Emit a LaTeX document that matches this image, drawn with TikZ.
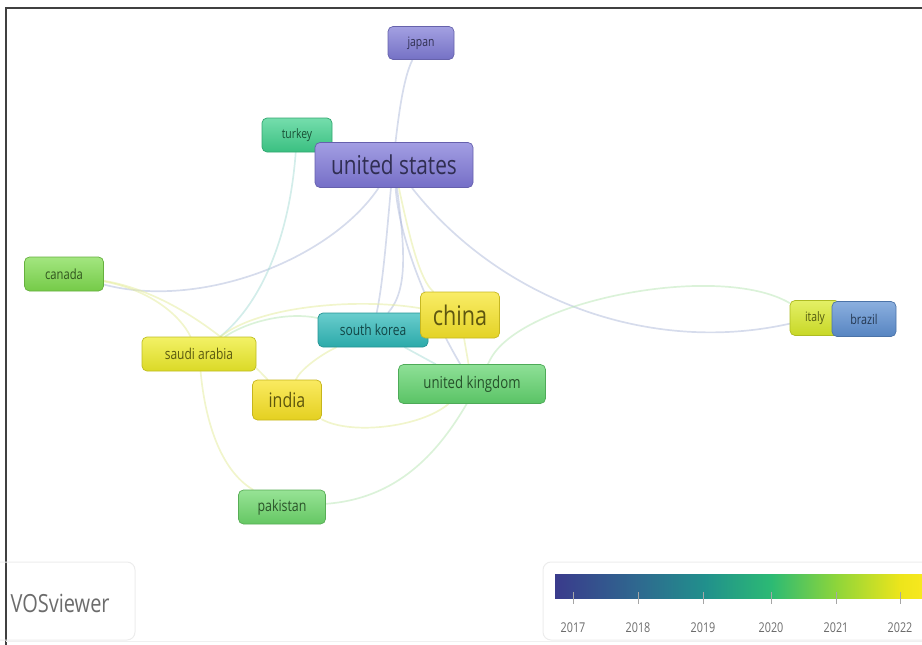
\documentclass[tikz,border=0pt]{standalone}
\usepackage{fontspec}
\setmainfont[FakeStretch=0.8]{Open Sans}
\usetikzlibrary{backgrounds}
\definecolor{cUS}{HTML}{7F78D8}
\definecolor{cJP}{HTML}{7F7BD6}
\definecolor{cTR}{HTML}{3FD08C}
\definecolor{cCA}{HTML}{7FDC4E}
\definecolor{cSK}{HTML}{2FB9B9}
\definecolor{cCN}{HTML}{F7E52A}
\definecolor{cSA}{HTML}{EEEC2A}
\definecolor{cIN}{HTML}{F8E223}
\definecolor{cUK}{HTML}{62D46E}
\definecolor{cIT}{HTML}{D9EA2A}
\definecolor{cBR}{HTML}{5E90D2}
\definecolor{cPK}{HTML}{6ED86C}
\definecolor{eBlue}{HTML}{AEB9DA}
\definecolor{eYel}{HTML}{E4EC9A}
\definecolor{eGrn}{HTML}{B8E6B4}
\definecolor{eTeal}{HTML}{A8DCD6}
\definecolor{cbA}{HTML}{3A3B8C}
\definecolor{cbB}{HTML}{2E6A8F}
\definecolor{cbC}{HTML}{21908C}
\definecolor{cbD}{HTML}{2CBA74}
\definecolor{cbE}{HTML}{8ED53A}
\definecolor{cbF}{HTML}{EDE51B}
\definecolor{cbG}{HTML}{F7E81E}
\begin{document}
\begin{tikzpicture}[x=1pt,y=-1pt,
  country/.style={rounded corners=5pt, inner sep=0pt, draw=#1!80!black,
    top color=#1!72!white, bottom color=#1!92!black, text=#1!38!black, line width=0.7pt},
  link/.style={line width=1.7pt, draw=#1, opacity=0.5, line cap=round},
  tick/.style={draw=gray!70, line width=0.6pt},
  year/.style={text=gray!85!black, font=\fontsize{13.5}{13.5}\selectfont}]
\useasboundingbox (0,0) rectangle (922,645);
% frame
\draw[line width=2pt, draw=black!75] (6,645) -- (6,8) -- (922,8);
% nodes
\node[country=cJP, minimum width=66pt, minimum height=33pt, font=\fontsize{13}{13}\selectfont] (japan) at (421,43) {japan};
\node[country=cTR, minimum width=70pt, minimum height=34pt, font=\fontsize{13}{13}\selectfont] (turkey) at (297,135) {turkey};
\node[country=cUS, minimum width=158pt, minimum height=45pt, font=\fontsize{26}{26}\selectfont] (us) at (394,165) {united states};
\node[country=cCA, minimum width=79pt, minimum height=34pt, font=\fontsize{14}{14}\selectfont] (canada) at (64,274) {canada};
\node[country=cSK, minimum width=110pt, minimum height=34pt, font=\fontsize{15}{15}\selectfont] (sk) at (373,330) {south korea};
\node[country=cCN, minimum width=79pt, minimum height=46pt, font=\fontsize{27}{27}\selectfont] (china) at (460,315) {china};
\node[country=cSA, minimum width=114pt, minimum height=34pt, font=\fontsize{15}{15}\selectfont] (saudi) at (199,354) {saudi arabia};
\node[country=cIN, minimum width=69pt, minimum height=40pt, font=\fontsize{20}{20}\selectfont] (india) at (287,400) {india};
\node[country=cUK, minimum width=147pt, minimum height=39pt, font=\fontsize{16.5}{16.5}\selectfont] (uk) at (472,384) {united kingdom};
\node[country=cIT, minimum width=50pt, minimum height=35pt, font=\fontsize{13}{13}\selectfont] (italy) at (815,318) {italy};
\node[country=cBR, minimum width=64pt, minimum height=35pt, font=\fontsize{13.5}{13.5}\selectfont] (brazil) at (864,319) {brazil};
\node[country=cPK, minimum width=87pt, minimum height=34pt, font=\fontsize{15.5}{15.5}\selectfont] (pakistan) at (282,507) {pakistan};
% edges
\begin{scope}[on background layer]
\draw[link=eBlue] (japan) .. controls (392,100) and (390,250) .. (sk);
\draw[link=eBlue] (us) .. controls (405,250) and (408,290) .. (sk);
\draw[link=eBlue] (us) .. controls (400,250) and (440,330) .. (uk);
\draw[link=eBlue] (us) .. controls (330,260) and (200,310) .. (canada);
\draw[link=eBlue] (us) .. controls (500,300) and (650,355) .. (italy);
\draw[link=eYel] (us) .. controls (410,240) and (420,280) .. (china);
\draw[link=eTeal] (turkey) .. controls (290,230) and (265,300) .. (saudi);
\draw[link=eGrn] (pakistan) .. controls (420,497) and (460,420) .. (490,360) .. controls (520,300) and (720,262) .. (italy);
\draw[link=eYel] (canada) .. controls (170,292) and (230,340) .. (india);
\draw[link=eYel] (canada) .. controls (150,290) and (180,315) .. (saudi);
\draw[link=eYel] (saudi) .. controls (205,420) and (220,470) .. (pakistan);
\draw[link=eYel] (saudi) .. controls (260,305) and (360,298) .. (china);
\draw[link=eGrn] (saudi) .. controls (250,320) and (290,312) .. (sk);
\draw[link=eYel] (india) .. controls (350,435) and (420,428) .. (uk);
\draw[link=eYel] (india) .. controls (300,370) and (320,355) .. (sk);
\draw[link=eTeal] (sk) -- (uk);
\draw[link=eYel] (china) -- (uk);
\end{scope}
% legend boxes
\draw[draw=gray!15, line width=1pt, rounded corners=8pt] (-10,562) rectangle (135,640);
\node[anchor=west, text=gray!85!black, font=\fontsize{25}{25}\selectfont] (vos) at (7,603) {VOSviewer};
\draw[draw=gray!15, line width=1pt, rounded corners=8pt] (543,562) rectangle (945,640);
\draw[draw=gray!12, line width=1pt] (6,641) -- (922,641);
% colour bar
\shade[left color=cbA, right color=cbB] (555,574) rectangle (640.5,598);
\shade[left color=cbB, right color=cbC] (640,574) rectangle (705.5,598);
\shade[left color=cbC, right color=cbD] (705,574) rectangle (771.5,598);
\shade[left color=cbD, right color=cbE] (771,574) rectangle (836.5,598);
\shade[left color=cbE, right color=cbF] (836,574) rectangle (900.5,598);
\shade[left color=cbF, right color=cbG] (900,574) rectangle (922,598);
\foreach \x/\yr in {573/2017, 638/2018, 703/2019, 771/2020, 836/2021, 900/2022} {
  \draw[tick] (\x,592) -- (\x,604);
  \node[year] (y\yr) at (\x,628) {\yr};
}
\end{tikzpicture}
\end{document}
